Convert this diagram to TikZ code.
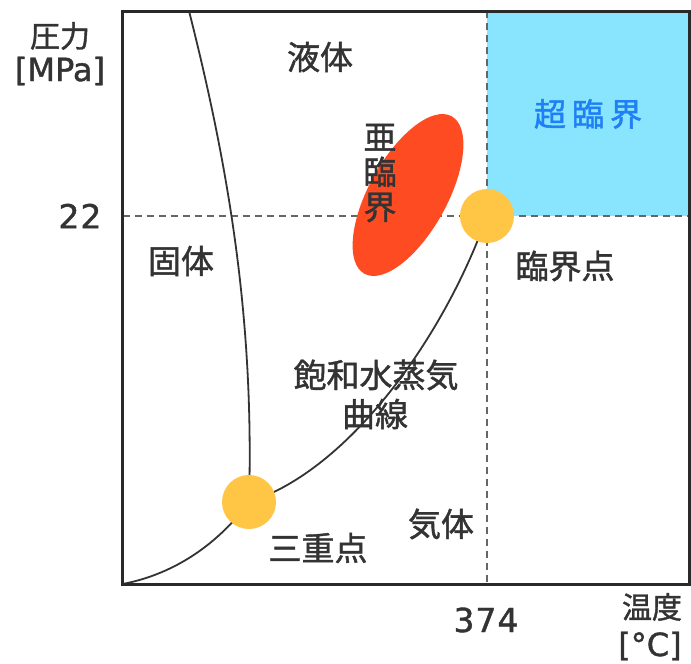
\documentclass[tikz,border=0pt]{standalone}
\usepackage{fontspec}
\usetikzlibrary{shapes.geometric}
\newfontfamily\jp[FakeBold=1.3]{Noto Sans CJK JP}
\newfontfamily\lat[FakeBold=1.2]{DejaVu Sans}
\newfontfamily\num[FakeBold=1.2,LetterSpace=3]{DejaVu Sans}
\definecolor{cyanbg}{HTML}{88E5FD}
\definecolor{subred}{HTML}{FF4B22}
\definecolor{dotcol}{HTML}{FFC545}
\definecolor{bluetxt}{HTML}{1F7FF5}
\definecolor{ink}{HTML}{333333}
\definecolor{guidecol}{HTML}{666666}
\tikzset{
  frame/.style={draw=ink!80!black, line width=3pt},
  guide/.style={draw=guidecol, line width=2.2pt, dash pattern=on 7pt off 5pt},
  curve/.style={draw=ink, line width=1.8pt},
  dot/.style={circle, fill=dotcol, minimum size=54pt, inner sep=0pt},
  jptext/.style={font=\jp\fontsize{33}{35}\selectfont, text=ink, inner sep=0pt},
  axtext/.style={font=\jp\fontsize{30}{32}\selectfont, text=ink, inner sep=0pt},
  lattext/.style={font=\lat\fontsize{32}{34}\selectfont, text=ink, inner sep=0pt},
  numtext/.style={font=\num\fontsize{33}{34}\selectfont, text=ink, inner sep=0pt},
}
\begin{document}
\begin{tikzpicture}[x=1pt,y=-1pt]
\useasboundingbox (0,0) rectangle (691,664);
\fill[white] (0,0) rectangle (691,664);
% coordinates
\coordinate (tl) at (122.5,11);
\coordinate (br) at (689.5,584);
\coordinate (bl) at (122.5,584);
\coordinate (hl) at (122.5,216);
\coordinate (hr) at (689.5,216);
\coordinate (vt) at (487,11);
\coordinate (vb) at (487,584);
\coordinate (tpc) at (249,502);
\coordinate (cpc) at (487,216);
\coordinate (mtop) at (189,11);
% supercritical region
\fill[cyanbg] (vt) rectangle (hr);
\node[font=\jp\fontsize{32}{34}\selectfont, text=bluetxt, inner sep=0pt] (sc) at (588,114) {超\hspace{6pt}臨\hspace{6pt}界};
% guides
\draw[guide] (hl) -- (hr);
\draw[guide] (vt) -- (vb);
% curves
\draw[curve] (mtop) .. controls (232,180) and (254,330) .. (tpc);
\draw[curve] (tpc) .. controls (215,548) and (170,575) .. (bl);
\draw[curve] (tpc) .. controls (350,470) and (445,335) .. (cpc);
% frame
\draw[frame] (tl) rectangle (br);
% subcritical ellipse
\node[ellipse, fill=subred, minimum width=180pt, minimum height=78pt, inner sep=0pt, rotate=61] (sub) at (408,195) {};
% points
\node[dot] (tp) at (tpc) {};
\node[dot] (cp) at (cpc) {};
% labels
\node[jptext, align=center] (subl) at (380,173) {亜\\臨\\界};
\node[jptext] (liq) at (320,57) {液体};
\node[jptext] (sol) at (181,261) {固体};
\node[jptext] (cpl) at (565,266) {臨界点};
\node[jptext] (sat1) at (376,375) {飽和水蒸気};
\node[jptext] (sat2) at (375,414) {曲線};
\node[jptext] (gas) at (441,524) {気体};
\node[jptext] (tpl) at (318,548) {三重点};
% axes
\node[axtext] (pa) at (60,36) {圧力};
\node[lattext] (pu) at (60,71) {[MPa]};
\node[numtext] (p22) at (80,216) {22};
\node[numtext] (t374) at (486,620) {374};
\node[axtext] (ta) at (652,607) {温度};
\node[lattext] (tu) at (650,646) {[°C]};
\end{tikzpicture}
\end{document}
